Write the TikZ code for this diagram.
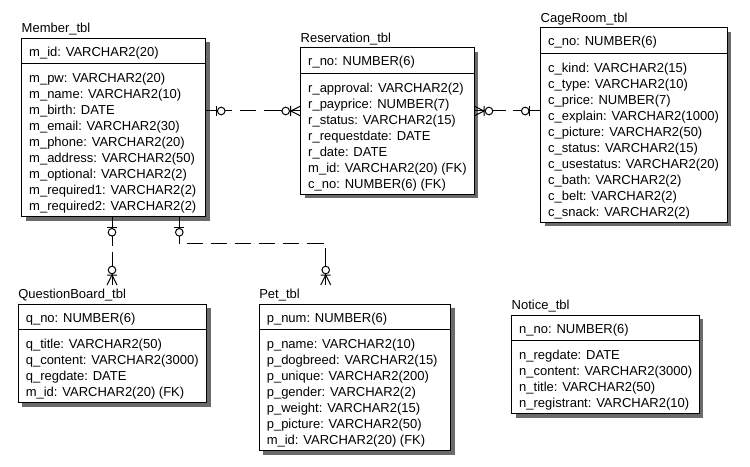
\documentclass[tikz,border=0pt]{standalone}
\usepackage{fontspec}
\setmainfont{Liberation Sans}
\usetikzlibrary{calc}

\tikzset{
  erfont/.style={font=\fontsize{9.75pt}{12pt}\selectfont},
  celltext/.style={erfont, inner sep=0pt, outer sep=0pt, anchor=base west},
  tblbox/.style={draw, fill=white, line width=0.75pt, inner sep=0pt, outer sep=0pt, anchor=north west},
  tblshadow/.style={fill=black!58},
  keyrule/.style={line width=0.75pt},
  rel/.style={line width=0.75pt},
  % zero-or-one end: bar, then open circle
  pics/zeroone/.style={code={
    \draw[line width=0.75pt] (11,-5) -- (11,5);
    \draw[line width=0.75pt, fill=white] (15.5,0) circle[radius=3.8];
  }},
  % zero-or-many end: crow's foot with bar, then open circle
  pics/zeromany/.style={code={
    \draw[line width=0.75pt] (0,-5) -- (10,0) -- (0,5) (10,-5) -- (10,5);
    \draw[line width=0.75pt, fill=white] (15,0) circle[radius=3.8];
  }},
}

% #1 name, #2 x, #3 y (top), #4 width, #5 title, #6 key field, #7 fields, #8 field count
\newcommand{\ertable}[8]{%
  \fill[tblshadow] (#2+4,#3+4) rectangle ++(#4,{34.5+16*#8});
  \node[tblbox, minimum width={#4*0.75pt}, minimum height={(34.5+16*#8)*0.75pt}] (#1) at (#2,#3) {};
  \draw[keyrule] ($(#1.north west)+(0,25.5)$) -- ($(#1.north east)+(0,25.5)$);
  \node[celltext] (#1-title) at ($(#1.north west)+(0,-5.5)$) {#5};
  \node[celltext] (#1-key) at ($(#1.north west)+(7.5,18)$) {#6};
  \foreach \fld [count=\i] in {#7}
    \node[celltext] (#1-f\i) at ($(#1.north west)+(7.5,{44.5+16*(\i-1)})$) {\fld};
}

\begin{document}
\begin{tikzpicture}[x=0.75pt, y=-0.75pt]
  \useasboundingbox (0,0) rectangle (750,467);

  \ertable{member}{21.7}{38.3}{184}{Member\_tbl}{m\_id: VARCHAR2(20)}
    {m\_pw: VARCHAR2(20), m\_name: VARCHAR2(10), m\_birth: DATE,
     m\_email: VARCHAR2(30), m\_phone: VARCHAR2(20), m\_address: VARCHAR2(50),
     m\_optional: VARCHAR2(2), m\_required1: VARCHAR2(2), m\_required2: VARCHAR2(2)}{9}

  \ertable{res}{300.7}{47.7}{173.3}{Reservation\_tbl}{r\_no: NUMBER(6)}
    {r\_approval: VARCHAR2(2), r\_payprice: NUMBER(7), r\_status: VARCHAR2(15),
     r\_requestdate: DATE, r\_date: DATE, m\_id: VARCHAR2(20) (FK), c\_no: NUMBER(6) (FK)}{7}

  \ertable{cage}{540.7}{27.7}{186.6}{CageRoom\_tbl}{c\_no: NUMBER(6)}
    {c\_kind: VARCHAR2(15), c\_type: VARCHAR2(10), c\_price: NUMBER(7),
     c\_explain: VARCHAR2(1000), c\_picture: VARCHAR2(50), c\_status: VARCHAR2(15),
     c\_usestatus: VARCHAR2(20), c\_bath: VARCHAR2(2), c\_belt: VARCHAR2(2), c\_snack: VARCHAR2(2)}{10}

  \ertable{qb}{18.3}{304.3}{188.4}{QuestionBoard\_tbl}{q\_no: NUMBER(6)}
    {q\_title: VARCHAR2(50), q\_content: VARCHAR2(3000), q\_regdate: DATE,
     m\_id: VARCHAR2(20) (FK)}{4}

  \ertable{pet}{259.3}{304.3}{191.4}{Pet\_tbl}{p\_num: NUMBER(6)}
    {p\_name: VARCHAR2(10), p\_dogbreed: VARCHAR2(15), p\_unique: VARCHAR2(200),
     p\_gender: VARCHAR2(2), p\_weight: VARCHAR2(15), p\_picture: VARCHAR2(50),
     m\_id: VARCHAR2(20) (FK)}{7}

  \ertable{notice}{511.7}{315}{187.3}{Notice\_tbl}{n\_no: NUMBER(6)}
    {n\_regdate: DATE, n\_content: VARCHAR2(3000), n\_title: VARCHAR2(50),
     n\_registrant: VARCHAR2(10)}{4}

  % Member -- Reservation
  \coordinate (mr) at ($(member.north east)+(0,72.7)$);
  \coordinate (rl) at (res.west |- mr);
  \draw[rel, dash pattern=on 19.7pt off 6pt on 12pt off 6pt on 40pt] (mr) -- (rl);
  \pic at (mr) {zeroone};
  \pic[rotate=180] at (rl) {zeromany};

  % Reservation -- CageRoom
  \coordinate (rr) at (res.east |- mr);
  \coordinate (cl) at (cage.west |- mr);
  \draw[rel, dash pattern=on 24pt off 5.5pt on 40pt] (rr) -- (cl);
  \pic at (rr) {zeromany};
  \pic[rotate=180] at (cl) {zeroone};

  % Member -- QuestionBoard
  \coordinate (mb1) at ($(member.south west)+(90.3,0)$);
  \coordinate (qt) at ($(qb.north west)+(93.7,-19.3)$);
  \draw[rel, dash pattern=on 21.75pt off 4.5pt on 40pt] (mb1) -- (qt);
  \pic[rotate=-90] at (mb1) {zeroone};
  \pic[rotate=90] at (qt) {zeromany};

  % Member -- Pet
  \coordinate (mb2) at ($(member.south west)+(157.6,0)$);
  \coordinate (pt) at ($(pet.north west)+(66.4,-19.3)$);
  \draw[rel, dash pattern=on 20.25pt off 6pt on 12pt off 6pt on 12pt off 6pt on 12pt off 6pt
        on 12pt off 6pt on 12pt off 6pt on 12.3pt off 5pt on 40pt]
    (mb2) -- ++(0,27) -| (pt);
  \pic[rotate=-90] at (mb2) {zeroone};
  \pic[rotate=90] at (pt) {zeromany};
\end{tikzpicture}
\end{document}
